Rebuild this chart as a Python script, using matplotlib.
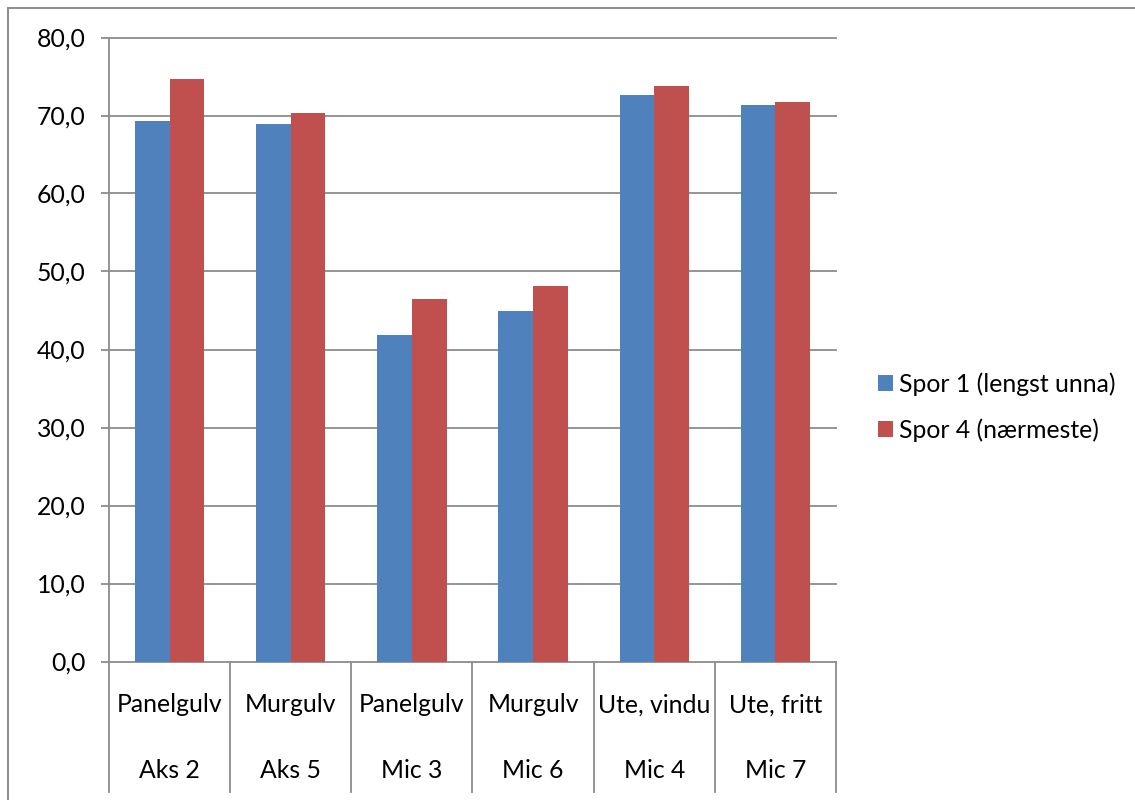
import matplotlib
matplotlib.use("Agg")
import matplotlib.pyplot as plt
from matplotlib.patches import Patch
from matplotlib.lines import Line2D
import numpy as np

plt.rcParams['font.family'] = ['Lato', 'DejaVu Sans']

# Data
surfaces = ["Panelgulv", "Murgulv", "Panelgulv", "Murgulv", "Ute, vindu", "Ute, fritt"]
mics = ["Aks 2", "Aks 5", "Mic 3", "Mic 6", "Mic 4", "Mic 7"]
series_names = ["Spor 1 (lengst unna)", "Spor 4 (nærmeste)"]
spor1 = [69.3, 68.9, 41.9, 44.9, 72.6, 71.4]
spor4 = [74.7, 70.3, 46.5, 48.1, 73.8, 71.7]
yticks = [0, 10, 20, 30, 40, 50, 60, 70, 80]

colors = ["#4F81BD", "#C0504D"]
grid_color = "#8C8C8C"
W, H = 1135, 800
FS = 17.8

fig = plt.figure(figsize=(W / 100, H / 100), dpi=100)
fig.patch.set_facecolor("white")

# outer chart frame (left and top edges visible)
fig.add_artist(Line2D([8 / W, 8 / W], [0, 1 - 8 / H], transform=fig.transFigure,
                      color=grid_color, lw=1.4))
fig.add_artist(Line2D([8 / W, 1], [1 - 8 / H, 1 - 8 / H], transform=fig.transFigure,
                      color=grid_color, lw=1.4))

left, right, top, bottom = 109, 836, 37.5, 661.5
ax = fig.add_axes([left / W, 1 - bottom / H, (right - left) / W, (bottom - top) / H])

n = len(mics)
x = np.arange(n)
bw = 1 / 3.5
ax.bar(x - bw / 2, spor1, width=bw, color=colors[0], zorder=3, linewidth=0)
ax.bar(x + bw / 2, spor4, width=bw, color=colors[1], zorder=3, linewidth=0)

ax.set_xlim(-0.5, n - 0.5)
ax.set_ylim(0, 80)

for yv in yticks:
    ax.axhline(yv, color=grid_color, lw=1.3, zorder=1, clip_on=False)

for s in ["top", "right", "bottom"]:
    ax.spines[s].set_visible(False)
ax.spines["left"].set_color(grid_color)
ax.spines["left"].set_linewidth(1.3)

ax.set_yticks(yticks)
ax.set_yticklabels([f"{v:.1f}".replace(".", ",") for v in yticks])
ax.tick_params(axis="y", length=6, width=1.3, color=grid_color, pad=11,
               labelsize=FS, labelcolor="black")
ax.set_xticks([])

# two-level category axis below the plot
sep_bottom = -(792 - bottom) / (bottom - top)
trans = ax.get_xaxis_transform()
for b in np.arange(n + 1) - 0.5:
    ax.add_line(Line2D([b, b], [0, sep_bottom], transform=trans, color=grid_color,
                       lw=1.3, clip_on=False))
row1 = -(705 - bottom) / (bottom - top)
row2 = -(770 - bottom) / (bottom - top)
for i in range(n):
    ax.text(x[i], row1, surfaces[i], transform=trans, ha="center", va="center",
            fontsize=FS)
    ax.text(x[i], row2, mics[i], transform=trans, ha="center", va="center",
            fontsize=FS)

handles = [Patch(facecolor=c, edgecolor="none") for c in colors]
fig.legend(handles, series_names, loc="center left",
           bbox_to_anchor=(878 / W, 1 - 407 / H), frameon=False, fontsize=FS,
           handlelength=0.6, handleheight=0.6, handletextpad=0.25,
           labelspacing=0.92, borderaxespad=0, borderpad=0)

fig.savefig("out.png", dpi=100, facecolor="white")
